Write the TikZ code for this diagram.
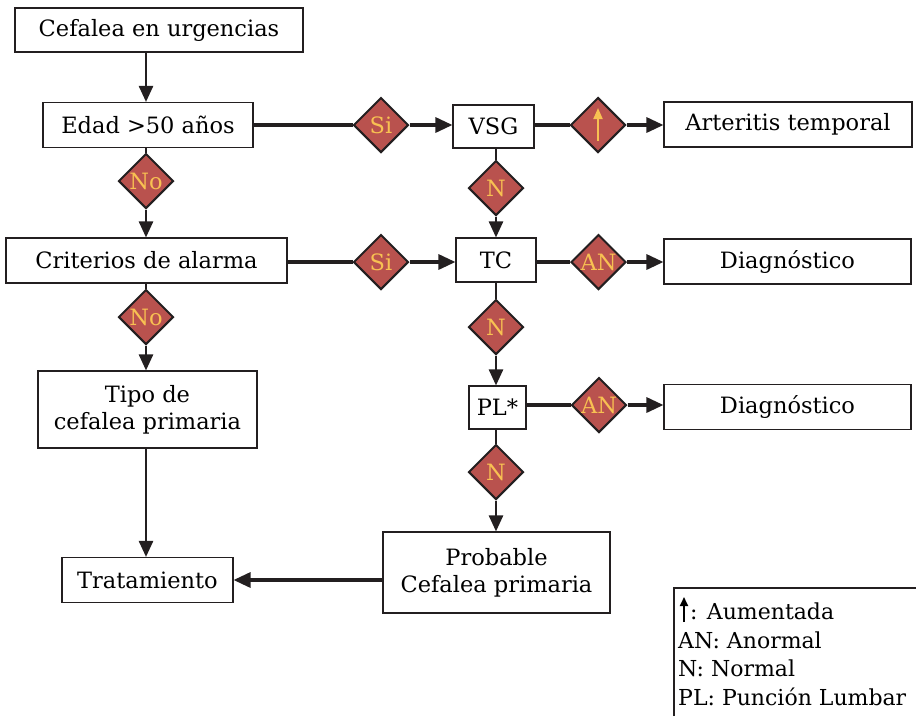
\documentclass[tikz,border=0pt]{standalone}
\usepackage{fontspec}
\setmainfont{DejaVu Serif}
\usetikzlibrary{arrows.meta,shapes.geometric}
\definecolor{dfill}{HTML}{B9524E}
\definecolor{dtext}{HTML}{F8C152}
\definecolor{lineblk}{HTML}{231F20}
\begin{document}
\begin{tikzpicture}[x=1pt,y=-1pt,
 box/.style={draw=lineblk,line width=1.1pt,fill=white,inner sep=0pt,font=\fontsize{22.5}{27}\selectfont,align=center},
 dia/.style={diamond,draw=lineblk,line width=2pt,fill=dfill,inner sep=0pt,minimum width=55pt,minimum height=55pt,text=dtext,font=\fontsize{22.5}{24}\selectfont},
 conn/.style={draw=lineblk,line width=3.2pt},
 vconn/.style={draw=lineblk,line width=2.5pt},
 arr/.style={conn,-{Triangle[length=17pt,width=15pt]}},
 varr/.style={vconn,-{Triangle[length=16pt,width=14pt]}},
 legend/.style={inner sep=0pt,anchor=west,font=\fontsize{22}{26}\selectfont},
]
\useasboundingbox (0,0) rectangle (916,716);
% boxes
\node[box,minimum width=288pt,minimum height=44pt] (cef) at (159,30) {Cefalea en urgencias};
\node[box,minimum width=210pt,minimum height=45pt] (edad) at (148,125) {Edad >50 años};
\node[box,minimum width=81pt,minimum height=43pt] (vsg) at (493.5,126.5) {VSG};
\node[box,minimum width=248pt,minimum height=45pt] (art) at (788,124.5) {Arteritis temporal};
\node[box,minimum width=281pt,minimum height=45pt] (crit) at (146.5,260.5) {Criterios de alarma};
\node[box,minimum width=80pt,minimum height=44pt] (tc) at (496,260) {TC};
\node[box,minimum width=247pt,minimum height=45pt] (dg1) at (787.5,261.5) {Diagnóstico};
\node[box,minimum width=57pt,minimum height=43pt] (pl) at (497.5,407.5) {PL*};
\node[box,minimum width=247pt,minimum height=45pt] (dg2) at (787.5,407) {Diagnóstico};
\node[box,minimum width=219pt,minimum height=77pt] (tipo) at (147.5,409.5) {Tipo de\\cefalea primaria};
\node[box,minimum width=171pt,minimum height=45pt] (trat) at (147.5,580) {Tratamiento};
\node[box,minimum width=227pt,minimum height=81pt] (prob) at (496.5,572.5) {Probable\\Cefalea primaria};
% diamonds
\node[dia] (si1) at (381,125) {Si};
\node[dia] (up) at (598,125) {};
\node[dia] (n1) at (496,188) {N};
\node[dia] (no1) at (146,181) {No};
\node[dia] (si2) at (381,262) {Si};
\node[dia] (an1) at (598.5,262) {AN};
\node[dia] (n2) at (496,327) {N};
\node[dia] (no2) at (146,317) {No};
\node[dia] (an2) at (599,405) {AN};
\node[dia] (n3) at (496,472) {N};
% up arrow inside diamond
\draw[dtext,line width=2pt,-{Triangle[length=11pt,width=9pt]}] ([yshift=-16pt]up.center) -- ([yshift=17pt]up.center);
% connectors
\draw[varr] (cef.south -| no1) -- (edad.north -| no1);
\draw[vconn] (edad.south -| no1) -- (no1.north);
\draw[varr] (no1.south) -- (crit.north -| no1);
\draw[vconn] (crit.south -| no2) -- (no2.north);
\draw[varr] (no2.south) -- (tipo.north -| no2);
\draw[varr] (tipo.south -| no2) -- (trat.north -| no2);
\draw[arr] (prob.west |- trat) -- (trat.east);
\draw[conn] (edad.east |- si1) -- (si1.west);
\draw[arr] (si1.east) -- (vsg.west |- si1);
\draw[conn] (vsg.east |- up) -- (up.west);
\draw[arr] (up.east) -- (art.west |- up);
\draw[vconn] (vsg.south -| n1) -- (n1.north);
\draw[varr] (n1.south) -- (tc.north -| n1);
\draw[conn] (crit.east |- si2) -- (si2.west);
\draw[arr] (si2.east) -- (tc.west |- si2);
\draw[conn] (tc.east |- an1) -- (an1.west);
\draw[arr] (an1.east) -- (dg1.west |- an1);
\draw[vconn] (tc.south -| n2) -- (n2.north);
\draw[varr] (n2.south) -- (pl.north -| n2);
\draw[conn] (pl.east |- an2) -- (an2.west);
\draw[arr] (an2.east) -- (dg2.west |- an2);
\draw[vconn] (pl.south -| n3) -- (n3.north);
\draw[varr] (n3.south) -- (prob.north -| n3);
% legend
\coordinate (lgb) at (674,716);
\coordinate (lgtl) at (674,588);
\coordinate (lgtr) at (916,588);
\draw[draw=lineblk,line width=1.1pt] (lgb) -- (lgtl) -- (lgtr);
\coordinate (la1) at (684,622);
\coordinate (la2) at (684,597);
\draw[black,line width=1.8pt,-{Triangle[length=9pt,width=8pt]}] (la1) -- (la2);
\node[legend] (l1) at (690,611) {: Aumentada};
\node[legend] (l2) at (678,640) {AN: Anormal};
\node[legend] (l3) at (678,668) {N: Normal};
\node[legend] (l4) at (678,697) {PL: Punción Lumbar};
\end{tikzpicture}
\end{document}
